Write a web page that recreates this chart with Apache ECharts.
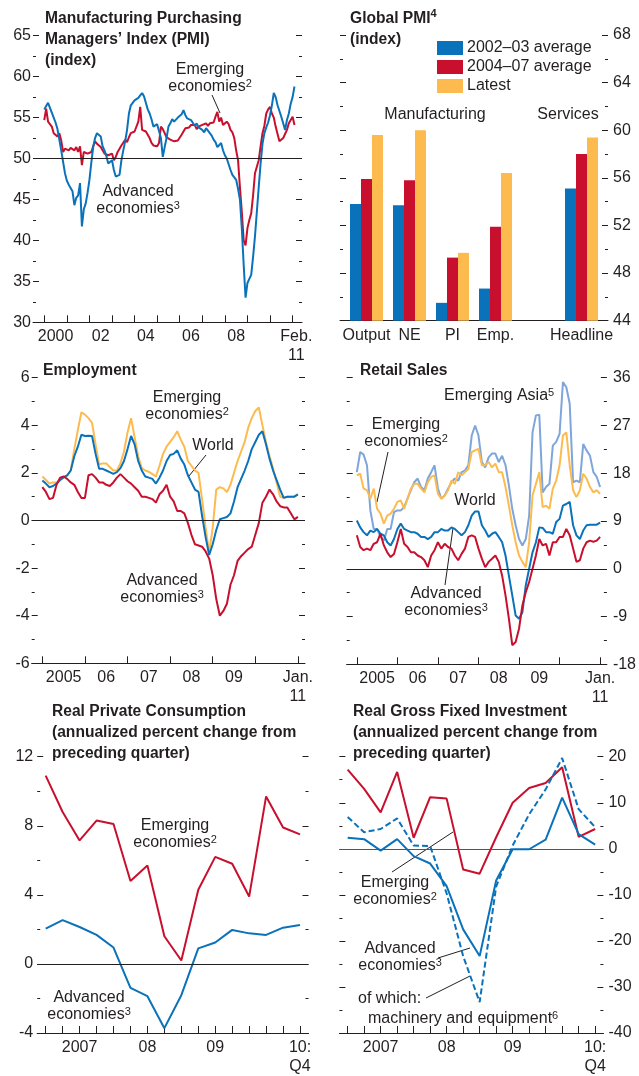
<!DOCTYPE html>
<html>
<head>
<meta charset="utf-8">
<script src="https://cdn.jsdelivr.net/npm/echarts@6.0.0/dist/echarts.min.js"></script>
<style>
  html, body { margin: 0; padding: 0; background: #fff; }
  #chart { width: 639px; height: 1076px; }
</style>
</head>
<body>
<div id="chart"></div>
<script>
const FONT = '"Liberation Sans", Arial, sans-serif';
const INK = '#231F20';
const BLUE = '#0A72BA', RED = '#C8102E', GOLD = '#FDBB4F', SKY = '#7EA6DA';

// Manufacturing PMI, monthly Jan 2000 - Feb 2011
const pmiAdvanced = [
  56.0, 56.4, 56.8, 56.9, 55.6, 55.0, 54.4, 53.6, 52.3, 51.0, 49.6, 48.2,
  47.3, 46.8, 46.6, 46.0, 44.3, 45.2, 45.5, 47.0, 41.7, 43.8, 44.5, 45.8,
  47.4, 49.5, 51.4, 52.5, 53.1, 53.0, 52.7, 51.5, 51.0, 50.3, 49.4, 49.6,
  49.8, 48.6, 47.8, 47.9, 48.0, 49.8, 51.0, 52.1, 53.5, 55.5, 56.5, 56.8,
  57.1, 57.2, 57.4, 57.7, 58.0, 57.6, 57.4, 56.0, 55.5, 54.8, 53.9, 54.0,
  54.2, 54.3, 52.5, 50.2, 51.4, 52.5, 53.9, 54.3, 54.8, 54.5, 54.7, 55.0,
  55.2, 55.4, 55.9, 55.3, 54.9, 54.8, 54.7, 54.6, 54.0, 54.3, 53.8, 53.6,
  53.5, 53.2, 53.7, 53.4, 53.3, 52.8, 52.3, 52.0, 51.4, 51.2, 51.9, 51.0,
  50.4, 50.0, 49.3, 48.6, 48.0, 47.7, 47.4, 46.3, 45.0, 41.5, 37.0, 33.0,
  34.8, 35.3, 35.8, 38.0, 40.5, 43.5, 46.5, 49.4, 51.8, 53.1, 53.8, 54.4,
  55.3, 56.5, 58.0, 57.5, 56.5, 55.8, 55.1, 54.3, 53.5, 54.7, 55.5, 56.7,
  57.5, 58.8
];
const pmiEmerging = [
  54.7, 56.1, 54.5, 54.2, 53.9, 53.1, 53.3, 52.7, 53.1, 52.2, 50.8, 51.2,
  51.4, 51.0, 51.3, 51.2, 51.0, 51.4, 50.8, 51.5, 49.2, 50.8, 51.0, 50.6,
  50.4, 50.8, 51.5, 52.1, 51.8, 51.6, 51.4, 51.0, 50.6, 50.8, 50.4, 50.2,
  50.6, 49.8, 50.2, 50.8, 51.2, 51.6, 51.8, 52.3, 52.0, 52.6, 53.1, 53.0,
  53.3, 53.5, 54.5, 56.3, 53.5, 53.7, 53.3, 53.1, 52.5, 51.9, 51.6, 51.4,
  51.5, 51.9, 53.9, 53.6, 53.1, 52.6, 52.5, 52.3, 52.5, 52.1, 52.3, 52.2,
  52.4, 52.9, 53.3, 53.7, 53.9, 53.8, 54.1, 53.9, 54.1, 53.6, 53.9, 54.0,
  54.1, 53.9, 54.3, 54.0, 54.3, 54.5, 54.4, 55.1, 55.7, 54.5, 55.0, 54.1,
  54.0, 54.5, 54.2, 53.5, 53.2, 52.5, 51.0, 49.8, 46.5, 43.5, 40.0, 39.4,
  41.5, 42.5, 43.3, 45.5, 48.2, 49.0, 49.8, 51.5, 53.1, 54.0, 55.5, 56.0,
  56.3, 55.5, 55.0, 53.9, 53.0, 52.1, 52.3, 52.5, 53.0, 53.5, 54.3, 54.7,
  55.1, 54.1
];

// Global PMI bars
const pmiGroups = ['Output', 'NE', 'PI', 'Emp.', '', 'Headline'];
const pmiAvg0203 = [53.8, 53.7, 45.5, 46.7, null, 55.1];
const pmiAvg0407 = [55.9, 55.8, 49.3, 51.9, null, 58.0];
const pmiLatest = [59.6, 60.0, 49.7, 56.4, null, 59.4];

// Employment, monthly Jan 2005 - Jan 2011
const empWorld = [
  1.68, 1.55, 1.4, 1.45, 1.55, 1.7, 1.82, 1.9, 2.1, 2.7, 3.1, 3.6,
  3.55, 3.56, 3.55, 2.8, 2.17, 2.17, 2.1, 2.03, 1.96, 2.03, 2.2, 2.5,
  3.0, 3.55, 3.2, 2.5, 2.1, 1.85, 1.8, 1.75, 1.55, 1.8, 2.1, 2.5,
  2.75, 2.8, 2.95, 2.6, 2.35, 1.9, 1.6, 1.3, 1.2, 0.2, -0.7, -1.45,
  -1.0, -0.4, 0.05, 0.1, 0.15, 0.3, 0.8, 1.4, 1.75, 2.1, 2.5, 3.0,
  3.3, 3.6, 3.75, 3.2, 2.6, 2.1, 1.7, 1.3, 0.95, 1.0, 1.0, 1.0,
  1.1
];
const empEmerging = [
  1.85, 1.7, 1.55, 1.6, 1.6, 1.7, 1.8, 1.9, 2.1, 3.0, 3.8, 4.55,
  4.45, 4.3, 4.1, 3.2, 2.35, 2.4, 2.4, 2.25, 2.1, 2.1, 2.4, 2.9,
  3.7, 4.3, 3.5, 2.7, 2.2, 2.1, 2.05, 1.95, 1.85, 2.3, 2.8, 3.1,
  3.3, 3.5, 3.75, 3.4, 3.1, 2.5, 2.3, 2.1, 2.0, 0.9, -0.3, -1.35,
  -0.3, 1.3, 1.4, 1.35, 1.2, 1.5, 2.0, 2.5, 2.9, 3.3, 3.9, 4.3,
  4.6, 4.75, 4.0, 3.3, 2.7, 2.2, 1.6, 1.0, 0.95, 1.0, 1.0, 1.0,
  1.1
];
const empAdvanced = [
  1.4, 1.2, 0.9, 0.95, 1.5, 1.8, 1.85, 1.75, 1.6, 1.5, 1.2, 0.95,
  0.95, 1.9, 1.95, 1.8, 1.6, 1.6, 1.5, 1.45, 1.6, 1.8, 1.95, 1.8,
  1.65, 1.55, 1.4, 1.25, 1.0, 1.0, 0.95, 0.9, 0.75, 1.1, 1.25, 1.5,
  1.0, 0.8, 0.4, 0.4, 0.3, -0.1, -0.6, -1.0, -1.05, -1.1, -1.3, -1.6,
  -2.3, -3.3, -4.0, -3.8, -3.5, -2.7, -2.3, -1.7, -1.5, -1.35, -1.2, -1.1,
  -0.6, -0.1, 0.75, 1.0, 1.3, 1.1, 0.8, 0.6, 0.55, 0.55, 0.3, 0.05,
  0.15
];

// Retail sales, monthly Jan 2005 - Jan 2011
const retailAsia = [
  18.2, 22.0, 21.5, 19.5, 11.0, 7.5, 7.5, 6.0, 5.3, 7.5, 7.5, 10.7,
  11.0, 11.0, 11.6, 13.2, 14.8, 16.3, 17.0, 15.4, 14.8, 17.0, 18.2, 19.5,
  15.1, 13.2, 13.8, 15.1, 16.3, 17.0, 16.6, 18.2, 18.5, 19.5, 25.1, 27.0,
  25.1, 20.1, 19.1, 21.0, 21.7, 21.7, 20.1, 21.3, 19.5, 15.7, 11.3, 8.2,
  5.6, 4.4, 5.6, 10.0, 25.7, 28.9, 29.0, 14.4, 15.4, 16.0, 23.2, 23.9,
  25.4, 35.2, 34.2, 31.1, 16.3, 16.6, 16.3, 23.5, 22.3, 21.3, 18.2, 17.3,
  15.4
];
const retailEmerging = [
  17.6, 17.9, 15.1, 14.8, 13.2, 15.1, 11.3, 10.4, 8.5, 10.0, 10.4, 11.3,
  12.6, 12.9, 11.3, 13.2, 15.1, 16.0, 16.0, 15.1, 14.4, 16.3, 17.3, 17.6,
  14.1, 13.2, 13.8, 14.8, 16.6, 16.0, 18.2, 17.6, 18.2, 18.8, 22.0, 22.3,
  22.6, 19.5, 19.5, 20.1, 19.1, 19.8, 18.2, 18.2, 15.4, 11.9, 8.2, 5.0,
  2.5, 1.3, 0.3, 5.0, 13.8, 16.0, 18.2, 11.6, 11.9, 11.3, 15.1, 16.6,
  19.5, 25.1, 25.7, 19.5, 14.8, 13.5, 14.8, 17.9, 17.0, 15.4, 14.4, 14.8,
  14.1
];
const retailWorld = [
  9.1, 7.8, 6.9, 6.3, 7.2, 6.9, 7.5, 6.6, 6.3, 5.0, 4.4, 5.6,
  7.5, 8.5, 7.5, 7.2, 6.9, 6.9, 6.6, 6.0, 6.0, 5.6, 6.0, 6.9,
  6.9, 7.5, 7.2, 7.2, 7.8, 7.5, 6.9, 6.3, 6.9, 8.2, 10.0, 10.8,
  10.8, 8.2, 7.2, 6.0, 6.6, 6.9, 6.0, 5.0, 2.5, -1.3, -5.0, -8.8,
  -9.4, -8.2, -3.1, 0.0, 3.1, 5.0, 7.8, 7.7, 6.9, 6.9, 6.6, 8.8,
  9.4, 11.9, 12.2, 12.6, 8.2, 6.3, 5.6, 7.2, 8.2, 8.3, 8.3, 8.3,
  8.7
];
const retailAdvanced = [
  6.3, 4.1, 3.5, 3.8, 3.5, 4.7, 5.0, 6.6, 4.4, 3.1, 2.2, 2.8,
  5.0, 7.5, 4.7, 4.1, 3.1, 3.1, 2.5, 2.2, 1.6, 0.3, 2.5, 3.5,
  5.0, 3.8, 4.7, 4.1, 3.8, 2.5, 1.6, 2.8, 3.8, 6.0, 6.3, 6.0,
  3.8, 1.9, 0.3, 1.3, 1.9, 2.5, 1.3, -1.3, -5.0, -9.4, -14.4, -13.8,
  -11.3, -6.9, -4.4, -2.5, 0.0, 2.5, 5.6, 4.4, 4.7, 2.5, 5.0, 5.0,
  6.0, 6.0, 7.5, 6.3, 3.8, 1.3, 1.6, 3.8, 5.0, 5.3, 5.1, 5.3,
  6.0
];

// Quarterly, 2007Q1 - 2010Q4
const quarters = ['2007Q1', '2007Q2', '2007Q3', '2007Q4', '2008Q1', '2008Q2', '2008Q3', '2008Q4',
  '2009Q1', '2009Q2', '2009Q3', '2009Q4', '2010Q1', '2010Q2', '2010Q3', '2010Q4'];
const consEmerging = [10.9, 8.8, 7.15, 8.3, 8.1, 4.8, 5.7, 1.6, 0.2, 4.3, 6.2, 5.8, 3.9, 9.7, 7.9, 7.5];
const consAdvanced = [2.04, 2.54, 2.14, 1.68, 0.95, -1.39, -1.87, -3.72, -1.81, 0.9, 1.24, 1.97, 1.77, 1.68, 2.1, 2.25];
const invEmerging = [17.2, 13.0, 7.9, 16.7, 2.4, 11.2, 10.9, -4.5, -5.4, 2.5, 10.0, 13.2, 14.3, 17.7, 2.6, 4.3];
const invAdvanced = [2.4, 2.1, -0.4, 2.1, -1.6, -3.2, -8.1, -17.5, -23.3, -6.9, -0.1, -0.1, 2.0, 11.1, 3.2, 0.9];
const invMachinery = [6.9, 3.6, 4.3, 6.6, 0.7, 0.6, -9.7, -23.3, -33.3, -8.2, 0.7, 7.5, 12.9, 19.7, 8.6, 4.7];

// tick labels
const pmiYearLabels = { '2000-07': '2000', '2002-07': '02', '2004-07': '04', '2006-07': '06', '2008-07': '08', '2011-03': 'Feb.\n11' };
const recentYearLabels = { '2005-07': '2005', '2006-07': '06', '2007-07': '07', '2008-07': '08', '2009-07': '09', '2011-01': 'Jan.\n11' };
const quarterLabels = { '2007Q3': '2007', '2008Q3': '08', '2009Q3': '09', '2010Q4': '10:\nQ4' };

function monthRange(y, m, n) {
  const out = [];
  for (let i = 0; i < n; i++) {
    const t = y * 12 + (m - 1) + i;
    out.push(Math.floor(t / 12) + '-' + String(t % 12 + 1).padStart(2, '0'));
  }
  return out;
}
const pmiMonths = monthRange(1999, 7, 144);
const recentMonths = monthRange(2004, 10, 78);

function place(cats, startKey, values) {
  const k = cats.indexOf(startKey);
  return cats.map((c, i) => (i - k >= 0 && i - k < values.length) ? values[i - k] : null);
}

const labelText = { color: INK, fontSize: 16, fontFamily: FONT };

function yPair(grid, min, max, interval, side, margin) {
  const make = (pos) => ({
    type: 'value', gridIndex: grid, position: pos, min: min, max: max, interval: interval,
    splitLine: { show: false }, axisLine: { show: false },
    axisTick: { show: true, inside: true, length: 6, lineStyle: { color: INK, width: 1 } },
    minorTick: { show: true, splitNumber: 2, length: 3, lineStyle: { color: INK, width: 1 } },
    axisLabel: Object.assign({ show: side === pos, margin: margin }, labelText)
  });
  return [make('left'), make('right')];
}

function monthAxis(grid, cats, labels) {
  return {
    type: 'category', gridIndex: grid, data: cats, boundaryGap: false,
    axisLine: { show: true, onZero: false, lineStyle: { color: INK, width: 1 } },
    axisTick: { show: true, inside: true, length: 7, interval: (i, v) => v.endsWith('-01'), lineStyle: { color: INK } },
    axisLabel: Object.assign({ interval: (i, v) => v in labels, formatter: v => labels[v] || '', margin: 5, lineHeight: 19 }, labelText),
    splitLine: { show: false }
  };
}

function quarterAxis(grid) {
  return {
    type: 'category', gridIndex: grid, data: quarters, boundaryGap: true,
    axisLine: { show: true, onZero: false, lineStyle: { color: INK, width: 1 } },
    axisTick: { show: true, inside: true, length: 7, interval: 0, alignWithLabel: true, lineStyle: { color: INK } },
    axisLabel: Object.assign({ interval: (i, v) => v in quarterLabels, formatter: v => quarterLabels[v] || '', margin: 5, lineHeight: 19 }, labelText),
    splitLine: { show: false }
  };
}

function line(name, xi, yi, data, color, extra) {
  return Object.assign({
    type: 'line', name: name, xAxisIndex: xi, yAxisIndex: yi, data: data,
    symbol: 'none', connectNulls: false,
    lineStyle: { color: color, width: 2 }, itemStyle: { color: color }
  }, extra || {});
}

function refLine(value, color) {
  return {
    silent: true, symbol: ['none', 'none'], label: { show: false },
    lineStyle: { color: color || INK, width: 1, type: 'solid' },
    data: [{ yAxis: value }]
  };
}

const rich = {
  n: { fontSize: 16, fontFamily: FONT, fill: INK, lineHeight: 17 },
  b: { fontSize: 15.6, fontFamily: FONT, fontWeight: 'bold', fill: INK, lineHeight: 21 },
  s: { fontSize: 11, fontFamily: FONT, fill: INK, lineHeight: 10, verticalAlign: 'top' },
  sb: { fontSize: 11, fontFamily: FONT, fontWeight: 'bold', fill: INK, lineHeight: 10, verticalAlign: 'top' }
};
function note(x, y, text, align) {
  return { type: 'text', x: x, y: y, silent: true,
    style: { text: text, rich: rich, align: align || 'center', verticalAlign: 'top', fill: INK } };
}
function leader(x1, y1, x2, y2) {
  return { type: 'line', silent: true, shape: { x1: x1, y1: y1, x2: x2, y2: y2 },
    style: { stroke: INK, lineWidth: 1 } };
}

const chart = echarts.init(document.getElementById('chart'), null, { renderer: 'canvas' });

const yAxes = [].concat(
  yPair(0, 30, 65, 5, 'left', 2),        // 0,1
  yPair(1, 44, 68, 4, 'right', 5),       // 2,3
  [{ type: 'value', gridIndex: 2, min: 44, max: 68, show: false }], // 4
  yPair(3, -6, 6, 2, 'left', 2),         // 5,6
  yPair(4, -18, 36, 9, 'right', 6),      // 7,8
  yPair(5, -4, 12, 4, 'left', 4),        // 9,10
  yPair(6, -40, 20, 10, 'right', 5)      // 11,12
);

chart.setOption({
  animation: false,
  backgroundColor: '#fff',
  textStyle: { fontFamily: FONT },
  grid: [
    { left: 33, top: 35.7, width: 269, height: 286.6 },
    { left: 340, top: 35, width: 268, height: 285.7 },
    { left: 345, top: 35, width: 258, height: 285.7 },
    { left: 31.7, top: 377.7, width: 273.3, height: 285.6 },
    { left: 346.7, top: 377.7, width: 260.6, height: 286.6 },
    { left: 37.2, top: 756.7, width: 271.3, height: 279.3 },
    { left: 339.4, top: 756.7, width: 264, height: 279.3 }
  ],
  xAxis: [
    monthAxis(0, pmiMonths, pmiYearLabels),
    { type: 'value', gridIndex: 1, min: 0, max: 1, axisLine: { show: true, onZero: false, lineStyle: { color: INK } },
      axisTick: { show: false }, axisLabel: { show: false }, splitLine: { show: false } },
    { type: 'category', gridIndex: 2, data: pmiGroups, axisLine: { show: false }, axisTick: { show: false },
      axisLabel: Object.assign({ margin: 7, interval: 0 }, labelText) },
    monthAxis(3, recentMonths, recentYearLabels),
    monthAxis(4, recentMonths, recentYearLabels),
    quarterAxis(5),
    quarterAxis(6)
  ],
  yAxis: yAxes,
  legend: {
    data: ['2002–03 average', '2004–07 average', 'Latest'],
    orient: 'vertical', left: 437, top: 40, itemWidth: 26, itemHeight: 14, itemGap: 3,
    icon: 'rect', selectedMode: false, padding: 0,
    textStyle: { color: INK, fontSize: 16, fontFamily: FONT, padding: [0, 0, 0, -1] }
  },
  series: [
    // Manufacturing PMI
    line('Emerging economies', 0, 0, place(pmiMonths, '2000-01', pmiEmerging), RED, { markLine: refLine(50) }),
    line('Advanced economies', 0, 0, place(pmiMonths, '2000-01', pmiAdvanced), BLUE),
    // Global PMI bars
    { type: 'bar', name: '2002–03 average', xAxisIndex: 2, yAxisIndex: 4, data: pmiAvg0203, barWidth: 11, barGap: '0%', itemStyle: { color: BLUE } },
    { type: 'bar', name: '2004–07 average', xAxisIndex: 2, yAxisIndex: 4, data: pmiAvg0407, barWidth: 11, barGap: '0%', itemStyle: { color: RED } },
    { type: 'bar', name: 'Latest', xAxisIndex: 2, yAxisIndex: 4, data: pmiLatest, barWidth: 11, barGap: '0%', itemStyle: { color: GOLD } },
    // Employment
    line('Emerging economies emp', 3, 5, place(recentMonths, '2005-01', empEmerging), GOLD, { markLine: refLine(0) }),
    line('World emp', 3, 5, place(recentMonths, '2005-01', empWorld), BLUE),
    line('Advanced economies emp', 3, 5, place(recentMonths, '2005-01', empAdvanced), RED),
    // Retail sales
    line('Emerging Asia', 4, 7, place(recentMonths, '2005-01', retailAsia), SKY, { markLine: refLine(0) }),
    line('Emerging economies retail', 4, 7, place(recentMonths, '2005-01', retailEmerging), GOLD),
    line('World retail', 4, 7, place(recentMonths, '2005-01', retailWorld), BLUE),
    line('Advanced economies retail', 4, 7, place(recentMonths, '2005-01', retailAdvanced), RED),
    // Real private consumption
    line('Emerging economies cons', 5, 9, consEmerging, RED, { markLine: refLine(0) }),
    line('Advanced economies cons', 5, 9, consAdvanced, BLUE),
    // Real gross fixed investment
    line('Emerging economies inv', 6, 11, invEmerging, RED, { markLine: refLine(0, '#555') }),
    line('Advanced economies inv', 6, 11, invAdvanced, BLUE),
    line('Machinery and equipment', 6, 11, invMachinery, BLUE, { lineStyle: { color: BLUE, width: 2, type: [6, 3] } })
  ],
  graphic: [
    // panel titles
    note(45, 8, '{b|Manufacturing Purchasing}\n{b|Managers’ Index (PMI)}\n{b|(index)}', 'left'),
    note(350, 8, '{b|Global PMI}{sb|4}\n{b|(index)}', 'left'),
    note(43, 360, '{b|Employment}', 'left'),
    note(360, 360, '{b|Retail Sales}', 'left'),
    note(52, 701, '{b|Real Private Consumption}\n{b|(annualized percent change from}\n{b|preceding quarter)}', 'left'),
    note(353, 701, '{b|Real Gross Fixed Investment}\n{b|(annualized percent change from}\n{b|preceding quarter)}', 'left'),
    // panel 1 notes
    note(210, 61, '{n|Emerging}\n{n|economies}{s|2}'),
    leader(212, 95, 220, 113),
    note(138, 183, '{n|Advanced}\n{n|economies}{s|3}'),
    // panel 2 notes
    note(435, 106, '{n|Manufacturing}'),
    note(568, 106, '{n|Services}'),
    // panel 3 notes
    note(187, 389, '{n|Emerging}\n{n|economies}{s|2}'),
    note(213, 437, '{n|World}'),
    leader(206, 455, 189, 476),
    note(162, 572, '{n|Advanced}\n{n|economies}{s|3}'),
    // panel 4 notes
    note(444, 387, '{n|Emerging Asia}{s|5}', 'left'),
    note(406, 416, '{n|Emerging}\n{n|economies}{s|2}'),
    leader(388, 452, 377, 502),
    note(475, 492, '{n|World}'),
    note(446, 585, '{n|Advanced}\n{n|economies}{s|3}'),
    leader(453, 528, 445, 585),
    // panel 5 notes
    note(175, 817, '{n|Emerging}\n{n|economies}{s|2}'),
    note(89, 989, '{n|Advanced}\n{n|economies}{s|3}'),
    // panel 6 notes
    note(395, 874, '{n|Emerging}\n{n|economies}{s|2}'),
    leader(392, 872, 453, 832),
    note(400, 940, '{n|Advanced}\n{n|economies}{s|3}'),
    leader(438, 958, 470, 948),
    note(358, 990, '{n|of which:}', 'left'),
    note(368, 1010, '{n|machinery and equipment}{s|6}', 'left'),
    leader(426, 998, 470, 976)
  ]
});
</script>
</body>
</html>
